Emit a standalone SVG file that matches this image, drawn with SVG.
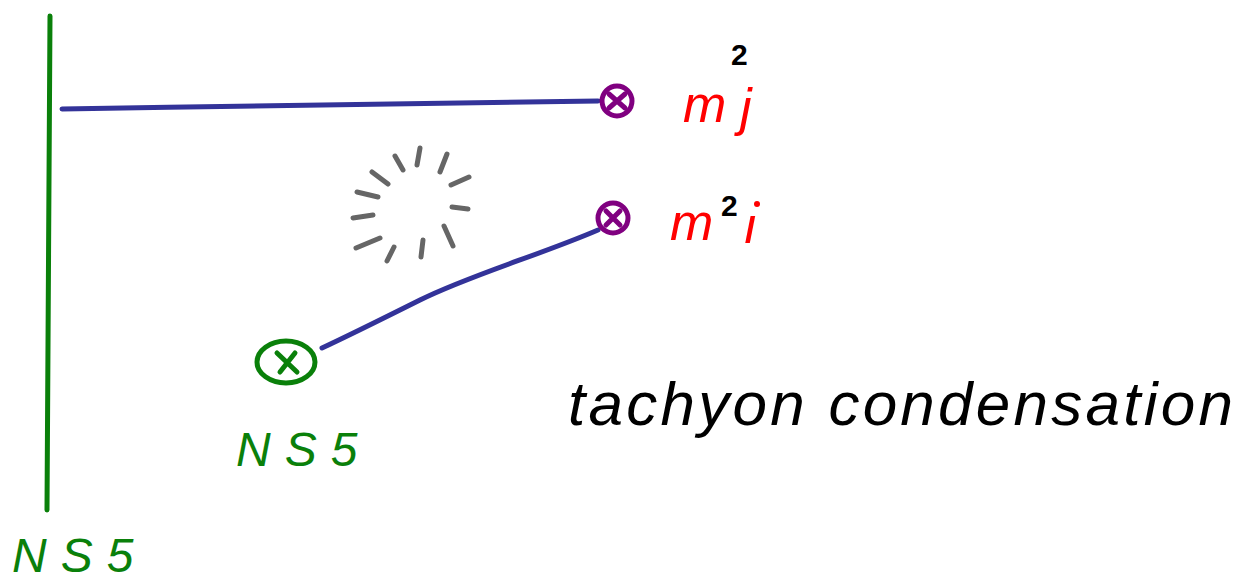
<svg xmlns="http://www.w3.org/2000/svg" width="1250" height="581" viewBox="0 0 1250 581">
<style>
.g{stroke:#0a800a;fill:none;stroke-width:5;stroke-linecap:round}
.b{stroke:#333399;fill:none;stroke-width:5;stroke-linecap:round}
.p{stroke:#800080;fill:none;stroke-width:5;stroke-linecap:round}
.d{stroke:#666;fill:none;stroke-width:5;stroke-linecap:round}
.lg{fill:#0a800a;font-family:"Liberation Sans",sans-serif;font-style:italic;font-size:48px;letter-spacing:14px}
.lr{fill:#ff0000;font-family:"Liberation Sans",sans-serif;font-style:italic;font-size:52px}
.lk{fill:#000;font-family:"Liberation Sans",sans-serif;font-weight:bold;font-size:30px}
.t{fill:#000;font-family:"Liberation Sans",sans-serif;font-style:italic;font-size:62px}
</style>
<rect width="1250" height="581" fill="#fff"/>
<g id="ns5-wall">
<path class="g" d="M50 16 L47 510"/>
<text class="lg" x="12" y="572">NS5</text>
</g>
<g id="connectors">
<path class="b" d="M62 109 C250 106 450 103 598 101"/>
<path class="b" d="M598 230 C540 255 470 275 420 300 C380 320 350 335 322 348"/>
</g>
<g id="node-j">
<circle class="p" cx="617" cy="101" r="15"/>
<path class="p" d="M609 94 L625 108 M625 94 L609 108"/>
<text class="lr" x="683" y="122">m</text>
<text class="lr" x="740" y="125">j</text>
<text class="lk" x="731" y="65">2</text>
</g>
<g id="node-i">
<circle class="p" cx="613" cy="218" r="15"/>
<path class="p" d="M606 211 L620 225 M620 211 L606 225"/>
<text class="lr" x="670" y="240">m</text>
<text class="lr" x="743" y="243">ı</text>
<circle cx="757" cy="204" r="3" fill="#ff0000"/>
<text class="lk" x="721" y="216">2</text>
</g>
<g id="node-ns5">
<ellipse class="g" cx="286" cy="362" rx="29" ry="21"/>
<path class="g" d="M277 353 L297 372 M295 353 L280 372"/>
<text class="lg" x="236" y="466">NS5</text>
</g>
<g id="burst">
<path class="d" d="M395 156 L403 170 M420 148 L417 165 M447 154 L440 172 M469 177 L451 185 M452 207 L468 209 M444 226 L453 246 M423 240 L421 257 M394 247 L387 261 M380 238 L356 248 M373 215 L353 218 M378 197 L357 192 M388 184 L372 172"/>
</g>
<text class="t" x="568" y="425" textLength="665">tachyon condensation</text>
</svg>
